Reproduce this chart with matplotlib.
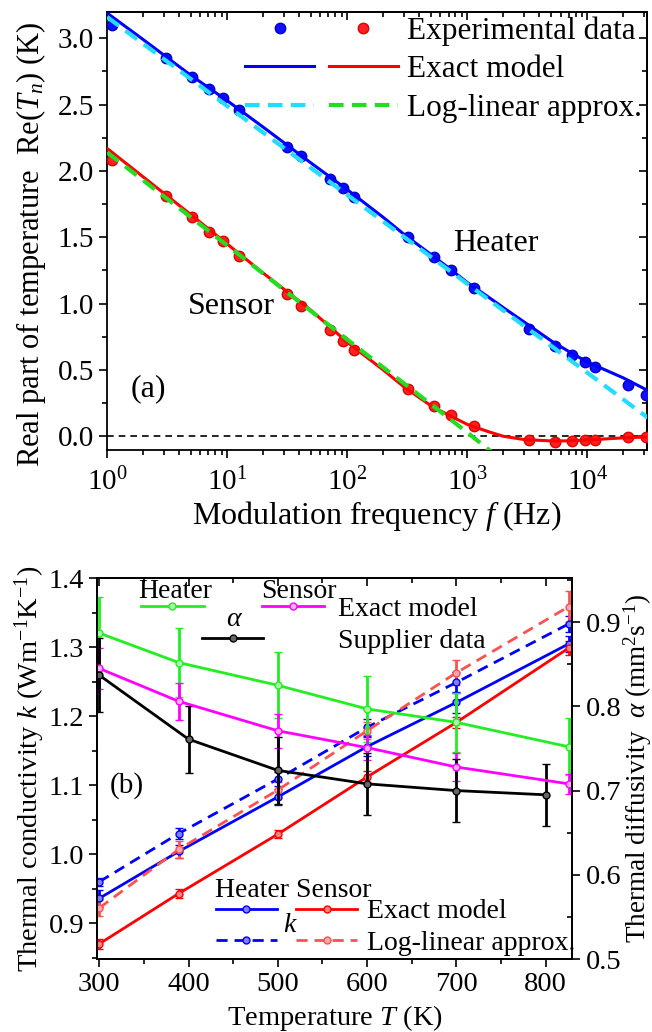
import numpy as np
import matplotlib
matplotlib.use('Agg')
import matplotlib.pyplot as plt
from matplotlib.ticker import MultipleLocator, FormatStrFormatter, LogLocator, NullFormatter
from matplotlib.legend_handler import HandlerTuple

plt.rcParams['font.family'] = ['Liberation Serif', 'DejaVu Serif']
plt.rcParams['mathtext.fontset'] = 'custom'
plt.rcParams['mathtext.rm'] = 'Liberation Serif'
plt.rcParams['mathtext.it'] = 'Liberation Serif:italic'
plt.rcParams['axes.linewidth'] = 1.3

# ---- panel (a) data : Re(T_n) vs modulation frequency ----
f_exp = [1.1, 3.1, 5.1, 7.1, 9.2, 12.5, 31.5, 41, 72, 92, 114, 323, 530, 730,
         1140, 3300, 5350, 7500, 9550, 11650, 22000, 31000]
heater_exp = [3.10, 2.85, 2.71, 2.62, 2.55, 2.46, 2.18, 2.11, 1.94, 1.87, 1.80, 1.50,
              1.35, 1.25, 1.12, 0.81, 0.68, 0.61, 0.56, 0.52, 0.39, 0.31]
sensor_exp = [2.08, 1.81, 1.65, 1.54, 1.47, 1.36, 1.07, 0.98, 0.80, 0.72, 0.65, 0.36,
              0.23, 0.16, 0.075, -0.03, -0.04, -0.035, -0.03, -0.025, -0.005, -0.005]

f_model = [1, 2, 5, 10, 20, 50, 100, 200, 300, 500, 700, 1000, 1500, 2000, 3000,
           5000, 7000, 10000, 20000, 32000]
heater_model = [3.19, 2.99, 2.72, 2.53, 2.33, 2.06, 1.86, 1.65, 1.52, 1.37, 1.27, 1.16,
                1.05, 0.97, 0.86, 0.72, 0.64, 0.56, 0.44, 0.345]
sensor_model = [2.17, 1.955, 1.67, 1.45, 1.23, 0.95, 0.71, 0.50, 0.37, 0.23, 0.16, 0.09,
                0.035, 0.0, -0.025, -0.035, -0.035, -0.028, -0.012, -0.005]

f_loglin_h = [1, 10, 100, 1000, 10000, 32000]
heater_loglin = [3.16, 2.49, 1.82, 1.15, 0.48, 0.14]
f_loglin_s = [1, 10, 100, 1000, 2000]
sensor_loglin = [2.14, 1.44, 0.73, 0.03, -0.19]

# ---- panel (b) data : k and alpha vs temperature ----
T_k = [300, 389, 500, 600, 700, 826]
k_heater_exact = [0.936, 1.004, 1.083, 1.156, 1.220, 1.305]
k_heater_exact_err = [0.012, 0.010, 0.012, 0.014, 0.015, 0.012]
k_heater_log = [0.960, 1.030, 1.109, 1.184, 1.249, 1.334]
k_heater_log_err = [0.006, 0.008, 0.010, 0.012, 0.015, 0.012]
k_sensor_exact = [0.870, 0.943, 1.029, 1.112, 1.191, 1.299]
k_sensor_exact_err = [0.007, 0.006, 0.006, 0.008, 0.008, 0.010]
k_sensor_log = [0.922, 1.007, 1.093, 1.179, 1.263, 1.359]
k_sensor_log_err = [0.012, 0.012, 0.012, 0.012, 0.018, 0.022]

a_heater = [0.887, 0.852, 0.825, 0.797, 0.781, 0.752]
a_heater_err = [0.043, 0.041, 0.039, 0.039, 0.035, 0.034]
a_sensor = [0.845, 0.806, 0.771, 0.751, 0.728, 0.708]
a_sensor_err = [0.024, 0.022, 0.020, 0.015, 0.017, 0.012]
T_sup = [300, 400, 500, 600, 700, 800]
a_supplier = [0.837, 0.761, 0.724, 0.708, 0.700, 0.695]
a_supplier_err = [0.044, 0.040, 0.040, 0.037, 0.037, 0.037]

fig = plt.figure(figsize=(6.52, 10.32), dpi=100)

# ================= panel (a) =================
ax1 = fig.add_axes([0.1641, 0.5644, 0.8282, 0.4243])
ax1.set_xscale('log')
pb, = ax1.plot(f_exp, heater_exp, 'o', color='#1010ff', mec='#0000cc', ms=7.5, zorder=3)
pr, = ax1.plot(f_exp, sensor_exp, 'o', color='#ff2020', mec='#dd0000', ms=7.5, zorder=3)
lb, = ax1.plot(f_model, heater_model, '-', color='#0000ff', lw=2.2, zorder=4)
lr, = ax1.plot(f_model, sensor_model, '-', color='#ff0000', lw=2.2, zorder=4)
dc, = ax1.plot(f_loglin_h, heater_loglin, '--', color='#22ddff', lw=3, dashes=(3.5, 2), zorder=5)
dg, = ax1.plot(f_loglin_s, sensor_loglin, '--', color='#22dd22', lw=3, dashes=(3.5, 2), zorder=5)
ax1.axhline(0, color='k', ls='--', lw=1.2, dashes=(4, 3), zorder=2)

ax1.set_xlim(1, 3.15e4)
ax1.set_ylim(-0.1, 3.2)
ax1.yaxis.set_major_locator(MultipleLocator(0.5))
ax1.yaxis.set_minor_locator(MultipleLocator(0.25))
ax1.yaxis.set_major_formatter(FormatStrFormatter('%.1f'))
ax1.xaxis.set_major_locator(LogLocator(base=10, numticks=10))
ax1.xaxis.set_minor_locator(LogLocator(base=10, subs=np.arange(2, 10), numticks=20))
ax1.xaxis.set_minor_formatter(NullFormatter())
ax1.tick_params(which='both', direction='out', labelsize=21, width=1.2)
ax1.tick_params(which='major', length=6)
ax1.tick_params(which='minor', length=3.5)
ax1.tick_params(axis='x', which='major', pad=7)
sx = ax1.secondary_xaxis('top')
sx.tick_params(which='both', direction='in', labeltop=False, width=1.2)
sx.tick_params(which='major', length=6)
sx.tick_params(which='minor', length=3.5)
sy = ax1.secondary_yaxis('right')
sy.yaxis.set_major_locator(MultipleLocator(0.5))
sy.yaxis.set_minor_locator(MultipleLocator(0.25))
sy.tick_params(which='both', direction='in', labelright=False, width=1.2)
sy.tick_params(which='major', length=6)
sy.tick_params(which='minor', length=3.5)

ax1.set_xlabel(r'Modulation frequency $f$ (Hz)', fontsize=23, labelpad=2)
ax1.set_ylabel(r'Real part of temperature  Re($T_n$) (K)', fontsize=22)
ax1.yaxis.set_label_coords(-0.11, 0.47)
ax1.text(1740, 1.45, 'Heater', fontsize=23, ha='center', va='center')
ax1.text(10.8, 0.98, 'Sensor', fontsize=23, ha='center', va='center')
ax1.text(2.2, 0.36, '(a)', fontsize=23, ha='center', va='center')

hl = [(pb, pr), (lb, lr), (dc, dg)]
ax1.legend(hl, ['Experimental data', 'Exact model', 'Log-linear approx.'],
           handler_map={tuple: HandlerTuple(ndivide=None, pad=0.45)},
           loc='upper right', frameon=False, fontsize=22.5, handlelength=4.9,
           handletextpad=0.3, borderaxespad=0.0, borderpad=0.15, labelspacing=0.3,
           numpoints=1)

# ================= panel (b) =================
ax2 = fig.add_axes([0.1495, 0.0707, 0.7283, 0.3689])
ax3 = ax2.twinx()

eb = ax2.errorbar(T_k, k_heater_exact, yerr=k_heater_exact_err, color='#0000ff', lw=2,
                  marker='o', ms=5, mfc='#8080ff', capsize=3, zorder=3)
er = ax2.errorbar(T_k, k_sensor_exact, yerr=k_sensor_exact_err, color='#ff0000', lw=2,
                  marker='o', ms=5, mfc='#ff8080', capsize=3, zorder=3)
ebd = ax2.errorbar(T_k, k_heater_log, yerr=k_heater_log_err, color='#0000ff', lw=2, ls='--',
                   dashes=(4, 2.5), marker='o', ms=5, mfc='#8080ff', capsize=3, zorder=3)
erd = ax2.errorbar(T_k, k_sensor_log, yerr=k_sensor_log_err, color='#ff5050', lw=2, ls='--',
                   dashes=(4, 2.5), marker='o', ms=5, mfc='#ffaaaa', capsize=3, zorder=3)

eg = ax3.errorbar(T_k, a_heater, yerr=a_heater_err, color='#22ee22', lw=2,
                  marker='o', ms=5, mfc='#aaffaa', capsize=3)
em = ax3.errorbar(T_k, a_sensor, yerr=a_sensor_err, color='#ff00ff', lw=2,
                  marker='o', ms=5, mfc='#ffaaff', capsize=3)
ek = ax3.errorbar(T_sup, a_supplier, yerr=a_supplier_err, color='black', lw=2,
                  marker='o', ms=5, mfc='#666666', capsize=3)

ax2.set_xlim(298, 830)
ax2.set_ylim(0.848, 1.4)
ax3.set_ylim(0.5, 0.952)
ax2.xaxis.set_major_locator(MultipleLocator(100))
ax2.xaxis.set_minor_locator(MultipleLocator(50))
ax2.yaxis.set_major_locator(MultipleLocator(0.1))
ax2.yaxis.set_minor_locator(MultipleLocator(0.05))
ax2.yaxis.set_major_formatter(FormatStrFormatter('%.1f'))
ax3.yaxis.set_major_locator(MultipleLocator(0.1))
ax3.yaxis.set_minor_locator(MultipleLocator(0.05))
ax3.yaxis.set_major_formatter(FormatStrFormatter('%.1f'))
ax2.tick_params(which='both', direction='out', labelsize=20.5, width=1.2)
ax2.tick_params(which='major', length=6)
ax2.tick_params(which='minor', length=3.5)
ax3.tick_params(which='major', direction='out', labelsize=20.5, length=6, width=1.2)
ax3.tick_params(which='minor', direction='in', length=3.5, width=1.2)
sx2 = ax2.secondary_xaxis('top')
sx2.xaxis.set_major_locator(MultipleLocator(100))
sx2.xaxis.set_minor_locator(MultipleLocator(50))
sx2.tick_params(which='both', direction='in', labeltop=False, width=1.2)
sx2.tick_params(which='major', length=6)
sx2.tick_params(which='minor', length=3.5)

ax2.set_xlabel(r'Temperature $T$ (K)', fontsize=20.5, labelpad=4)
ax2.set_ylabel(r'Thermal conductivity $k$ (Wm$^{-1}$K$^{-1}$)', fontsize=20.5, labelpad=1)
ax3.set_ylabel(r'Thermal diffusivity  $\alpha$ (mm$^{2}$s$^{-1}$)', fontsize=19.5, labelpad=0)

ax2.text(0.062, 0.457, '(b)', transform=ax2.transAxes, fontsize=21, ha='center', va='center')

# alpha legend
blank1 = plt.Line2D([], [], color='none')
blank2 = plt.Line2D([], [], color='none')
h_ex = (eg.lines[0], em.lines[0])
h_sup = (blank1, ek.lines[0], blank2)
ax3.legend([h_ex, h_sup], ['Exact model', 'Supplier data'],
           handler_map={h_ex: HandlerTuple(ndivide=None, pad=2.1),
                        h_sup: HandlerTuple(ndivide=None, pad=0.0)},
           loc='upper left', bbox_to_anchor=(0.092, 0.952), frameon=False, fontsize=20,
           handlelength=6.6, handletextpad=0.5, borderaxespad=0.0, borderpad=0.0,
           labelspacing=0.22, numpoints=1)
ax3.text(0.163, 0.966, 'Heater', transform=ax3.transAxes, fontsize=20, ha='center', va='center')
ax3.text(0.424, 0.966, 'Sensor', transform=ax3.transAxes, fontsize=20, ha='center', va='center')
ax3.text(0.289, 0.893, r'$\alpha$', transform=ax3.transAxes, fontsize=20, ha='center', va='center')

# k legend
h_kex = (eb.lines[0], er.lines[0])
h_klog = (ebd.lines[0], erd.lines[0])
ax3.add_artist(ax3.get_legend())
ax3.legend([h_kex, h_klog], ['Exact model', 'Log-linear approx.'],
           handler_map={tuple: HandlerTuple(ndivide=None, pad=0.68)},
           loc='upper left', bbox_to_anchor=(0.249, 0.158), frameon=False, fontsize=20,
           handlelength=5.1, handletextpad=0.33, borderaxespad=0.0, borderpad=0.0,
           labelspacing=0.22, numpoints=1)
ax3.text(0.412, 0.181, 'Heater Sensor', transform=ax3.transAxes, fontsize=20, ha='center', va='center')
ax3.text(0.406, 0.089, r'$k$', transform=ax3.transAxes, fontsize=20, ha='center', va='center')

fig.savefig('out.png', dpi=100)
